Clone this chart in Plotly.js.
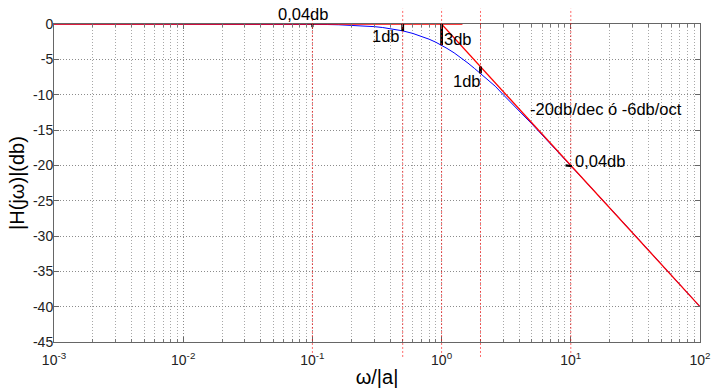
<!DOCTYPE html>
<html>
<head>
<meta charset="utf-8">
<script src="https://cdn.plot.ly/plotly-3.0.1.min.js"></script>
<style>html,body{margin:0;padding:0;background:#fff;}#plot{width:713px;height:388px;}</style>
</head>
<body>
<div id="plot"></div>
<script>
// ---- data ----
var freq = [0.001, 0.01, 0.03, 0.05, 0.08, 0.1, 0.13, 0.16, 0.2, 0.25, 0.3, 0.35, 0.4, 0.45, 0.5, 0.6, 0.7, 0.8, 0.9, 1, 1.1, 1.25, 1.4, 1.6, 1.8, 2, 2.3, 2.6, 3, 3.5, 4, 4.5, 5, 6, 7, 8, 9, 10, 12, 15, 20, 30, 50, 70, 100];
var magDb = [0, -0.0004, -0.004, -0.011, -0.028, -0.043, -0.073, -0.11, -0.17, -0.26, -0.37, -0.5, -0.65, -0.8, -0.97, -1.34, -1.73, -2.15, -2.57, -3.01, -3.45, -4.08, -4.7, -5.53, -6.3, -6.99, -7.94, -8.8, -10.0, -11.3, -12.3, -13.3, -14.15, -15.7, -17.0, -18.1, -19.1, -20.04, -21.6, -23.5, -26.0, -29.5, -34.0, -36.9, -40.0];

var asymFlatX = [0.001, 1.45];
var asymFlatY = [0, 0];
var asymSlopeX = [0.83, 100];
var asymSlopeY = [1.6, -40];

var guideX = [0.1, 0.5, 1, 2, 10];

var markSegX = [[0.1, 0.1], [0.5, 0.5], [1, 1], [2, 2], [9.1, 10.2]];
var markSegY = [[0.3, -0.45], [0, -1], [0, -3], [-6.02, -6.99], [-20.0, -20.1]];

var noteText = ['0,04db', '1db', '3db', '1db', '-20db/dec ó -6db/oct', '0,04db'];
var noteX = [0.085, 0.372, 1.33, 1.56, 18.6, 16.7];
var noteY = [0, -1.75, -2.12, -8.02, -12.0, -19.43];
var noteLift = [10, 0, 0, 0, 0, 0];

var xTickVals = [0.001, 0.01, 0.1, 1, 10, 100];
var xTickText = ['10<sup>-3</sup>', '10<sup>-2</sup>', '10<sup>-1</sup>', '10<sup>0</sup>', '10<sup>1</sup>', '10<sup>2</sup>'];
var yTickVals = [0, -5, -10, -15, -20, -25, -30, -35, -40, -45];
var yTickText = ['0', '-5', '-10', '-15', '-20', '-25', '-30', '-35', '-40', '-45'];

// ---- build ----
var minorVals = [];
for (var d = -3; d < 2; d++) {
  for (var k = 2; k <= 9; k++) minorVals.push(k * Math.pow(10, d));
}

var traces = [];
traces.push({x: freq, y: magDb, mode: 'lines', line: {color: '#0000ff', width: 1}, hoverinfo: 'skip'});
traces.push({x: asymFlatX, y: asymFlatY, mode: 'lines', line: {color: '#ff0000', width: 1.6}, hoverinfo: 'skip'});
traces.push({x: asymSlopeX, y: asymSlopeY, mode: 'lines', line: {color: '#ff0000', width: 1.3}, hoverinfo: 'skip'});
for (var i = 0; i < markSegX.length; i++) {
  traces.push({x: markSegX[i], y: markSegY[i], mode: 'lines', line: {color: '#000000', width: i === 0 || i === 4 ? 2.2 : 2.8}, hoverinfo: 'skip'});
}

var shapes = guideX.map(function (gx) {
  return {type: 'line', xref: 'x', yref: 'paper', x0: gx, x1: gx, y0: -0.047, y1: 1.048,
          line: {color: 'rgba(255,0,0,0.6)', width: 1, dash: '2px,2px'}, layer: 'above'};
});

var annotations = noteText.map(function (t, i) {
  return {x: Math.log10(noteX[i]), y: noteY[i], xref: 'x', yref: 'y', text: t, showarrow: false,
          yshift: noteLift[i],
          xanchor: 'center', yanchor: 'middle', font: {size: 16.5, color: '#000'}};
});

var fontFam = '"Liberation Sans", Arial, Helvetica, sans-serif';

var layout = {
  width: 713, height: 388,
  margin: {l: 54, r: 13, t: 24, b: 46, pad: 0},
  paper_bgcolor: '#ffffff', plot_bgcolor: '#ffffff',
  showlegend: false,
  font: {family: fontFam, color: '#000'},
  xaxis: {
    type: 'log', range: [-3, 2],
    tickmode: 'array', tickvals: xTickVals, ticktext: xTickText,
    tickfont: {size: 14, color: '#222'},
    ticks: 'inside', ticklen: 5, tickcolor: '#666', tickwidth: 1,
    ticklabelstandoff: 5,
    showline: true, linecolor: '#666', linewidth: 1, mirror: 'ticks',
    showgrid: true, gridcolor: '#8c8c8c', griddash: '1px,2px', gridwidth: 1,
    zeroline: false,
    minor: {tickmode: 'array', tickvals: minorVals, ticks: 'inside', ticklen: 3, tickcolor: '#777',
            showgrid: true, gridcolor: '#a8a8a8', griddash: '1px,2px', gridwidth: 1},
    title: {text: 'ω/|a|', font: {size: 20, color: '#000'}, standoff: 6}
  },
  yaxis: {
    range: [-45, 0],
    tickmode: 'array', tickvals: yTickVals, ticktext: yTickText,
    tickfont: {size: 14, color: '#222'},
    ticks: 'inside', ticklen: 5, tickcolor: '#666', tickwidth: 1,
    ticklabelstandoff: -3,
    showline: true, linecolor: '#666', linewidth: 1, mirror: 'ticks',
    showgrid: true, gridcolor: '#8c8c8c', griddash: '1px,2px', gridwidth: 1,
    zeroline: false,
    title: {text: '|H(jω)|(db)', font: {size: 20, color: '#000'}, standoff: 2}
  },
  shapes: shapes,
  annotations: annotations
};

Plotly.newPlot('plot', traces, layout, {displayModeBar: false, staticPlot: true});
</script>
</body>
</html>
